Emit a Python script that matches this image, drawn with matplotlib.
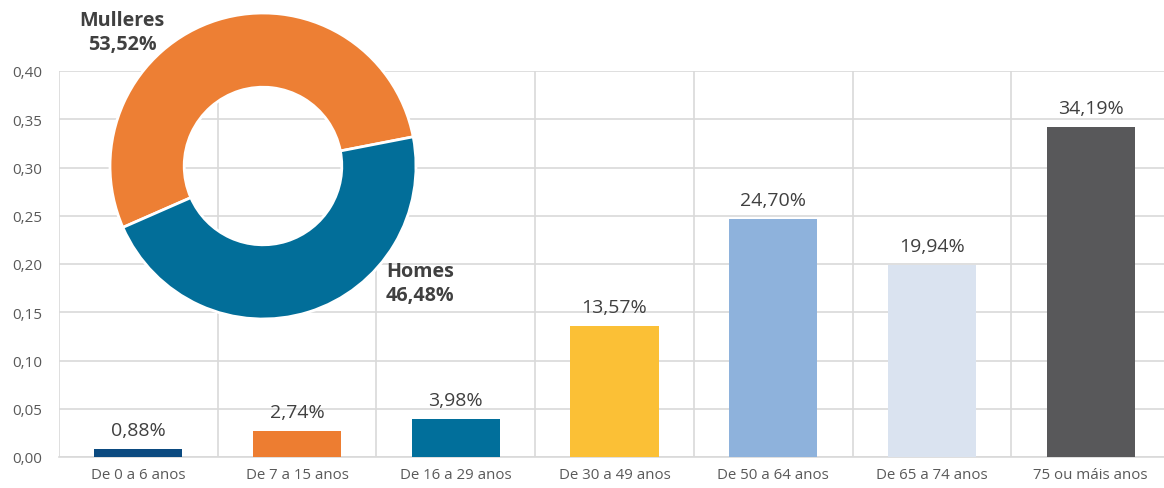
import numpy as np
import matplotlib
matplotlib.use('Agg')
import matplotlib.pyplot as plt

plt.rcParams['font.family'] = ['Open Sans', 'DejaVu Sans']

# Data
categories = ['De 0 a 6 anos', 'De 7 a 15 anos', 'De 16 a 29 anos', 'De 30 a 49 anos',
              'De 50 a 64 anos', 'De 65 a 74 anos', '75 ou máis anos']
values = [0.0088, 0.0274, 0.0398, 0.1357, 0.2470, 0.1994, 0.3419]
bar_colors = ['#0B4A80', '#ED7D31', '#016F9B', '#FBC036', '#8EB2DC', '#DAE3F0', '#58585A']

sex_labels = ['Mulleres', 'Homes']
sex_values = [53.52, 46.48]
sex_colors = ['#ED7F34', '#026E99']

y_ticks = [0.00, 0.05, 0.10, 0.15, 0.20, 0.25, 0.30, 0.35, 0.40]

W, H = 1164, 489
fig = plt.figure(figsize=(W / 100, H / 100), dpi=100)

# Main bar chart
ax = fig.add_axes([59 / W, 1 - 458 / H, (1170 - 59) / W, (458 - 72) / H])
x = np.arange(len(categories))
ax.bar(x, values, width=0.555, color=bar_colors, zorder=3)
for xi, v in zip(x, values):
    ax.text(xi, v + 0.010, f'{v * 100:.2f}%'.replace('.', ','), ha='center', va='bottom',
            fontsize=14, color='#404040')

ax.set_xlim(-0.5, len(categories) - 0.5)
ax.set_ylim(0, 0.40)
ax.set_yticks(y_ticks)
ax.set_yticklabels([f'{t:.2f}'.replace('.', ',') for t in y_ticks], fontsize=11, color='#595959')
ax.set_xticks(x)
ax.set_xticklabels(categories, fontsize=10.8, color='#595959')
ax.set_xticks(np.arange(-0.5, len(categories), 1), minor=True)
ax.tick_params(axis='both', which='both', length=0)
ax.tick_params(axis='x', pad=7)
ax.tick_params(axis='y', pad=12)
ax.grid(axis='y', which='major', color='#D9D9D9', linewidth=1.2, zorder=0)
ax.grid(axis='x', which='minor', color='#D9D9D9', linewidth=1.2, zorder=0)
for s in ['top', 'right', 'left']:
    ax.spines[s].set_visible(False)
ax.spines['bottom'].set_color('#D9D9D9')
ax.spines['bottom'].set_linewidth(1.2)

# Donut inset
cx, cy, r = 263, 167, 153
dax = fig.add_axes([(cx - r) / W, 1 - (cy + r) / H, 2 * r / W, 2 * r / H])
dax.pie(sex_values, colors=sex_colors, startangle=11, counterclock=True, radius=1,
        wedgeprops=dict(width=0.485, edgecolor='white', linewidth=2))
dax.set_xlim(-1, 1)
dax.set_ylim(-1, 1)
dax.set_aspect('equal')
dax.patch.set_alpha(0)
dax.axis('off')

fig.text(122 / W, 1 - 21 / H, f'{sex_labels[0]}', ha='center', va='center',
         fontsize=14.2, fontweight='bold', color='#404040')
fig.text(122 / W, 1 - 45 / H, f'{sex_values[0]:.2f}%'.replace('.', ','), ha='center', va='center',
         fontsize=14.2, fontweight='bold', color='#404040')
fig.text(420 / W, 1 - 272 / H, f'{sex_labels[1]}', ha='center', va='center',
         fontsize=14.2, fontweight='bold', color='#404040')
fig.text(420 / W, 1 - 296 / H, f'{sex_values[1]:.2f}%'.replace('.', ','), ha='center', va='center',
         fontsize=14.2, fontweight='bold', color='#404040')

fig.savefig('out.png', dpi=100)
